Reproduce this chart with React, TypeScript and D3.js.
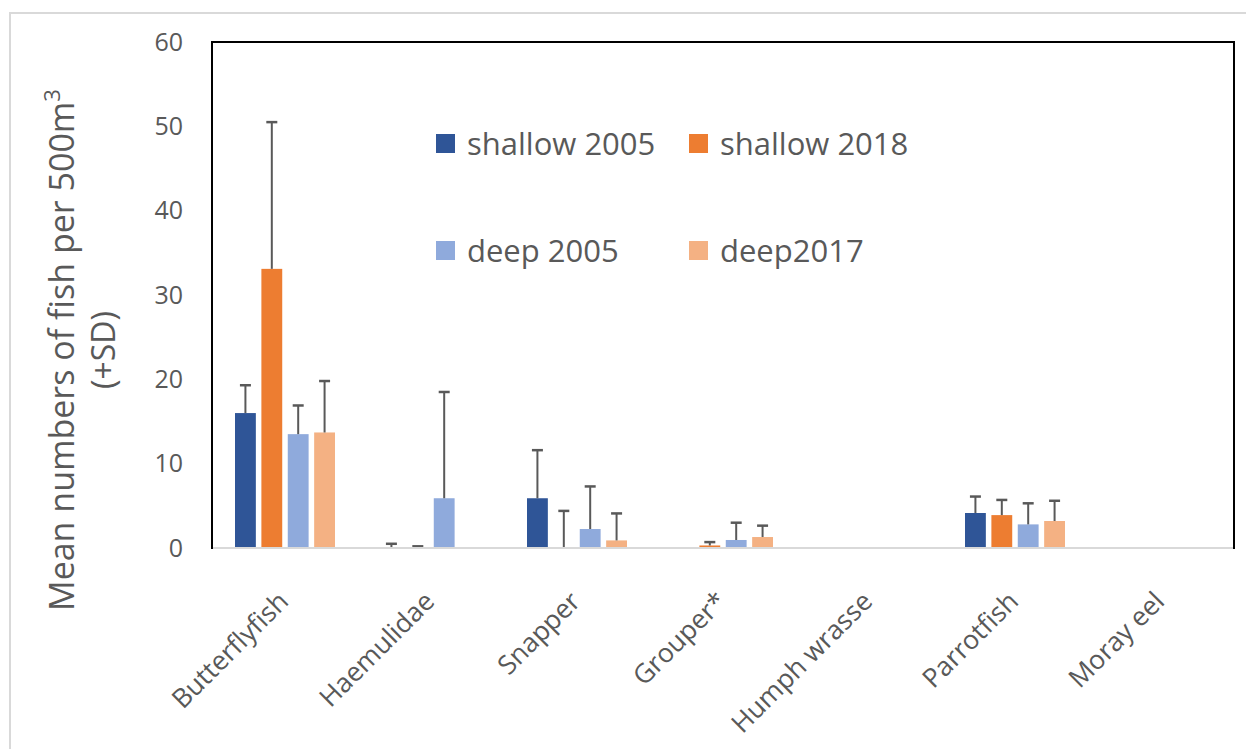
import React from "react";
import * as d3 from "d3";

const categories = ["Butterflyfish", "Haemulidae", "Snapper", "Grouper*", "Humph wrasse", "Parrotfish", "Moray eel"];
const seriesNames = ["shallow 2005", "shallow 2018", "deep 2005", "deep2017"];
const shallow2005 = [16.0, 0, 5.9, 0, 0, 4.15, 0];
const shallow2018 = [33.1, 0, 0, 0.3, 0, 3.9, 0];
const deep2005 = [13.5, 5.9, 2.25, 0.95, 0, 2.8, 0];
const deep2017 = [13.7, 0, 0.9, 1.3, 0, 3.2, 0];
const sdShallow2005 = [3.3, 0.5, 5.7, 0, 0, 1.95, 0];
const sdShallow2018 = [17.4, 0.2, 4.4, 0.4, 0, 1.8, 0];
const sdDeep2005 = [3.4, 12.6, 5.05, 2.05, 0, 2.5, 0];
const sdDeep2017 = [6.1, 0, 3.2, 1.35, 0, 2.4, 0];
const yTicks = [0, 10, 20, 30, 40, 50, 60];
const colors = ["#2F5597", "#ED7D31", "#8FAADC", "#F4B183"];

const seriesValues = [shallow2005, shallow2018, deep2005, deep2017];
const seriesSD = [sdShallow2005, sdShallow2018, sdDeep2005, sdDeep2017];

const W = 1246;
const H = 749;
const plot = { left: 212, right: 1234, top: 42, bottom: 548 };
const FONT = "'Open Sans', sans-serif";
const TEXT = "#595959";

export default function App() {
  const x = d3.scaleBand<string>().domain(categories).range([plot.left, plot.right]).paddingInner(0).paddingOuter(0);
  const inner = d3.scaleBand<string>().domain(seriesNames).range([-50, 50]).paddingInner(0.21).paddingOuter(0);
  const y = d3.scaleLinear().domain([0, 60]).range([plot.bottom, plot.top]);
  const bw = inner.bandwidth();

  const legendPos = [
    { x: 436, y: 134 },
    { x: 689, y: 134 },
    { x: 436, y: 241 },
    { x: 689, y: 241 },
  ];

  return (
    <svg width={W} height={H} style={{ position: "absolute", left: 0, top: 0, background: "#fff" }} fontFamily={FONT}>
      <rect x={0} y={0} width={W} height={H} fill="#fff" />
      {/* outer chart border */}
      <rect x={10} y={13} width={W + 20} height={H + 20} fill="none" stroke="#D9D9D9" strokeWidth={2} />

      {/* bars */}
      {seriesValues.map((vals, si) => (
        <g key={seriesNames[si]}>
          {categories.map((c, ci) => {
            const v = vals[ci];
            if (!v) return null;
            const bx = (x(c) as number) + x.bandwidth() / 2 + (inner(seriesNames[si]) as number);
            return <rect key={c} x={bx} y={y(v)} width={bw} height={y(0) - y(v)} fill={colors[si]} />;
          })}
        </g>
      ))}

      {/* error bars */}
      {seriesValues.map((vals, si) => (
        <g key={"e" + si} stroke="#595959" strokeWidth={2}>
          {categories.map((c, ci) => {
            const sd = seriesSD[si][ci];
            if (!sd) return null;
            const cx = (x(c) as number) + x.bandwidth() / 2 + (inner(seriesNames[si]) as number) + bw / 2;
            const y0 = y(vals[ci]);
            const y1 = y(vals[ci] + sd);
            return (
              <g key={c}>
                <line x1={cx} x2={cx} y1={y0} y2={y1} />
                <line x1={cx - 5.5} x2={cx + 5.5} y1={y1} y2={y1} strokeWidth={2.5} />
              </g>
            );
          })}
        </g>
      ))}

      {/* axes / frame */}
      <line x1={plot.left} x2={plot.right} y1={plot.bottom} y2={plot.bottom} stroke="#D9D9D9" strokeWidth={2} />
      <path
        d={`M${plot.left},${plot.bottom + 1} V${plot.top} H${plot.right} V${plot.bottom + 1}`}
        fill="none"
        stroke="#000"
        strokeWidth={2}
      />

      {/* y tick labels */}
      {yTicks.map((t) => (
        <text key={t} x={183} y={y(t)} dy="0.35em" textAnchor="end" fontSize={25} fill={TEXT}>
          {t}
        </text>
      ))}

      {/* y axis title */}
      <g transform="translate(62,350) rotate(-90)">
        <text x={0} y={0} dy="0.35em" textAnchor="middle" fontSize={34} fill={TEXT}>
          Mean numbers of fish per 500m<tspan fontSize={22} dy="-14">3</tspan>
        </text>
        <text x={0} y={42} dy="0.35em" textAnchor="middle" fontSize={32} fill={TEXT}>
          (+SD)
        </text>
      </g>

      {/* x category labels */}
      {categories.map((c) => {
        const cx = (x(c) as number) + x.bandwidth() / 2;
        return (
          <text key={c} transform={`translate(${cx + 5},${603}) rotate(-45)`} textAnchor="end" fontSize={26.5} fill={TEXT}>
            {c}
          </text>
        );
      })}

      {/* legend */}
      {seriesNames.map((s, i) => (
        <g key={s} transform={`translate(${legendPos[i].x},${legendPos[i].y})`}>
          <rect x={0} y={0} width={19} height={19} fill={colors[i]} />
          <text x={31} y={10} dy="0.35em" fontSize={31} fill={TEXT}>
            {s}
          </text>
        </g>
      ))}
    </svg>
  );
}
